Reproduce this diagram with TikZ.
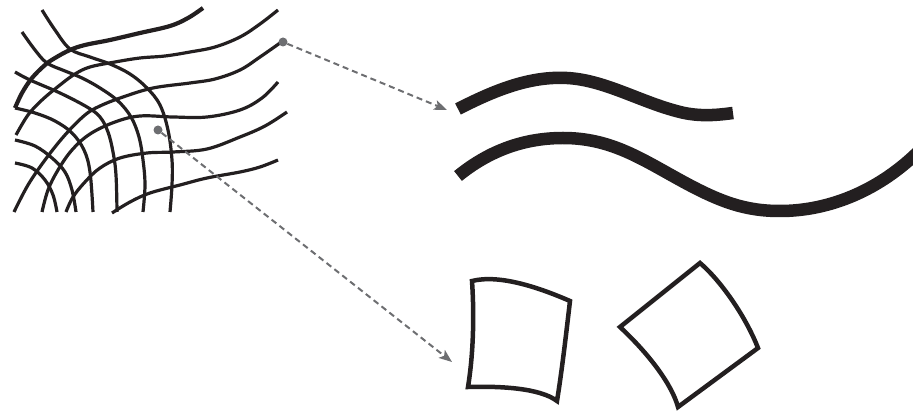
\documentclass[tikz,border=0pt]{standalone}
\usetikzlibrary{arrows.meta}
\definecolor{ink}{HTML}{231F20}
\definecolor{arrowgray}{HTML}{6D6E71}
\begin{document}
\begin{tikzpicture}[x=1pt,y=-1pt,
  gridline/.style={ink, line width=3.2pt},
  thickgrid/.style={ink, line width=4.2pt},
  wave/.style={ink, line width=12.5pt},
  cell/.style={ink, line width=4.5pt, line join=miter},
  dot/.style={circle, fill=arrowgray, inner sep=0pt, minimum size=9pt},
  flow/.style={arrowgray, line width=2pt, dash pattern=on 6pt off 4pt,
     -{Stealth[length=13pt,width=10pt,inset=3pt]}}]
\useasboundingbox (0,0) rectangle (913,411);

% ---- warped grid: horizontal family ----
\draw[thickgrid] plot[smooth, tension=0.6] coordinates {(203,8) (188,18) (170,26) (140,33) (110,40) (85,45) (70,50) (55,58) (45,65) (32,78) (22,93) (15,108)};
\draw[gridline] plot[smooth, tension=0.6] coordinates {(278,10) (260,24) (240,37) (215,47) (190,52) (165,56) (140,58) (115,62) (90,67) (75,74) (60,85) (42,100) (28,115) (16,135)};
\draw[gridline] plot[smooth, tension=0.6] coordinates {(280,43) (260,57) (240,70) (215,79) (190,83) (153,88) (123,97) (100,106) (85,115) (65,135) (45,160) (28,185) (14,212)};
\draw[gridline] plot[smooth, tension=0.6] coordinates {(278,82) (262,98) (240,110) (207,117) (173,117) (140,116) (115,122) (90,134) (72,150) (58,170) (48,190) (42,212)};
\draw[gridline] plot[smooth, tension=0.6] coordinates {(287,112) (265,126) (240,137) (207,149) (173,152) (147,153) (120,158) (100,168) (85,182) (73,197) (66,212)};
\draw[gridline] plot[smooth, tension=0.6] coordinates {(278,160) (260,167) (240,172) (207,178) (180,185) (150,193) (130,202) (112,213)};

% ---- warped grid: vertical family ----
\draw[gridline] plot[smooth, tension=0.6] coordinates {(42,10) (55,30) (70,49) (90,57) (110,64) (130,74) (147,88) (160,105) (168,130) (172,160) (172,185) (170,212)};
\draw[gridline] plot[smooth, tension=0.6] coordinates {(22,32) (35,50) (47,63) (65,71) (82,78) (100,88) (118,101) (131,117) (139,137) (143,160) (145,185) (143,212)};
\draw[gridline] plot[smooth, tension=0.6] coordinates {(15,72) (30,80) (60,93) (87,107) (100,117) (108,132) (113,152) (116,175) (117,212)};
\draw[gridline] plot[smooth, tension=0.6] coordinates {(15,108) (35,113) (55,121) (72,133) (84,150) (90,172) (93,212)};
\draw[gridline] plot[smooth, tension=0.6] coordinates {(15,140) (35,146) (52,158) (65,172) (72,190) (76,212)};
\draw[gridline] plot[smooth, tension=0.6] coordinates {(15,163) (32,168) (45,180) (53,195) (57,212)};

% ---- two stroke curves ----
\draw[wave] (458,109) .. controls (495,90) and (530,76) .. (567,78)
  .. controls (605,80) and (640,102) .. (680,112)
  .. controls (700,117) and (718,115) .. (733,113);
\draw[wave] (458,176) .. controls (490,150) and (525,138) .. (563,138)
  .. controls (610,138) and (640,158) .. (680,180)
  .. controls (720,202) and (745,211) .. (780,211)
  .. controls (830,211) and (880,190) .. (920,150);

% ---- two cells ----
\draw[cell] (472,281) .. controls (500,274) and (540,288) .. (570,301)
  .. controls (566,335) and (562,370) .. (557,401)
  .. controls (540,388) and (500,386) .. (468,387)
  .. controls (474,350) and (474,310) .. cycle;
\draw[cell] (620,327) .. controls (645,307) and (675,283) .. (700,263)
  .. controls (720,280) and (745,315) .. (758,348)
  -- (678,407)
  .. controls (672,385) and (650,355) .. cycle;

% ---- pointers ----
\node[dot] (d1) at (283,42) {};
\node[dot] (d2) at (158,130) {};
\coordinate (t1) at (447,110);
\coordinate (t2) at (452,362);
\draw[flow] (d1) -- (t1);
\draw[flow] (d2) -- (t2);
\end{tikzpicture}
\end{document}
